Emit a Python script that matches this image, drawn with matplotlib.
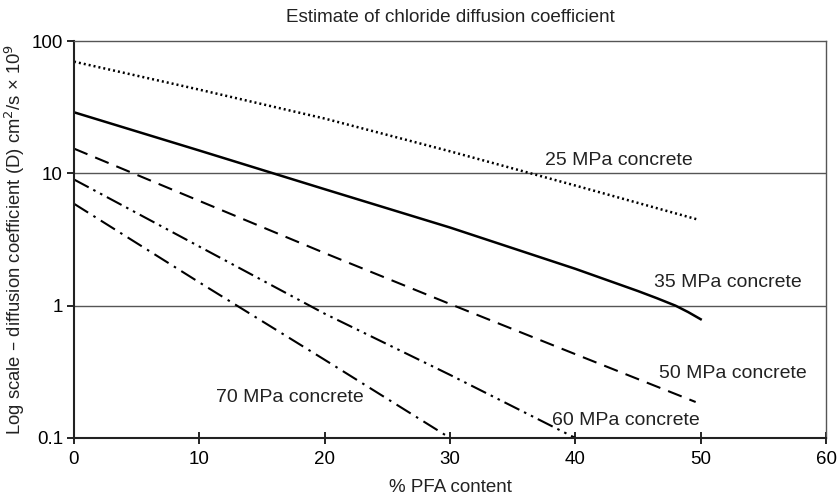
import matplotlib
matplotlib.use("Agg")
import matplotlib.pyplot as plt

plt.rcParams['font.family'] = ['Liberation Sans', 'DejaVu Sans']

# % PFA content and diffusion coefficient (cm2/s x 1e9)
x_25 = [0, 10, 20, 30, 40, 49.7]
d_25 = [70, 43, 26, 14.7, 8.1, 4.5]

x_35 = [0, 10, 20, 30, 40, 45, 46.5, 48, 49, 50]
d_35 = [29, 14.9, 7.6, 3.9, 1.9, 1.29, 1.14, 1.0, 0.895, 0.79]

x_50 = [0, 10, 20, 30, 40, 49.6]
d_50 = [15.4, 6.2, 2.5, 1.03, 0.43, 0.187]

x_60 = [0, 10, 20, 30, 40]
d_60 = [9.0, 2.8, 0.87, 0.30, 0.1]

x_70 = [0, 10, 20, 30]
d_70 = [5.9, 1.5, 0.39, 0.1]

labels = ['25 MPa concrete', '35 MPa concrete', '50 MPa concrete',
          '60 MPa concrete', '70 MPa concrete']
label_x = [43.5, 52.2, 52.6, 44.0, 17.2]
label_y = [12.6, 1.5, 0.306, 0.136, 0.203]

fig = plt.figure(figsize=(8.38, 4.96), dpi=100)
ax = fig.add_axes([0.0883, 0.117, 0.8974, 0.8])

ax.plot(x_25, d_25, color='black', lw=1.8, linestyle=(0, (0.8, 1.2)))
ax.plot(x_35, d_35, color='black', lw=1.8, linestyle='-')
ax.plot(x_50, d_50, color='black', lw=1.5, linestyle=(0, (7, 4)))
ax.plot(x_60, d_60, color='black', lw=1.5, linestyle=(0, (8, 2.5, 1.2, 2.5, 1.2, 2.5)))
ax.plot(x_70, d_70, color='black', lw=1.5, linestyle=(0, (8, 3, 1.2, 3)))

for t, tx, ty in zip(labels, label_x, label_y):
    ax.text(tx, ty, t, ha='center', va='center', fontsize=14, color='#222222')

ax.set_yscale('log')
ax.set_xlim(0, 60)
ax.set_ylim(0.1, 100)
ax.set_yticks([0.1, 1, 10, 100])
ax.set_yticklabels(['0.1', '1', '10', '100'])
ax.minorticks_off()
ax.set_xticks(range(0, 61, 10))

for v in [1, 10]:
    ax.axhline(v, color='#555555', lw=1.0, zorder=0)

ax.tick_params(axis='x', direction='inout', length=9, width=1.2, labelsize=13.5, pad=5)
ax.tick_params(axis='y', direction='out', length=5, width=1.2, labelsize=13.5, pad=3)
for s in ['left', 'bottom']:
    ax.spines[s].set_linewidth(1.5)
    ax.spines[s].set_color('#222222')
for s in ['top', 'right']:
    ax.spines[s].set_linewidth(1.0)
    ax.spines[s].set_color('#555555')

ax.set_title('Estimate of chloride diffusion coefficient', fontsize=13.6, pad=14, color='#222222')
ax.set_xlabel('% PFA content', fontsize=13.5, labelpad=8, color='#222222')
ax.set_ylabel('Log scale \u2013 diffusion coefficient (D) cm$^2$/s \u00d7 10$^9$',
              fontsize=13.3, labelpad=3, color='#222222')

fig.savefig('out.png', dpi=100)
